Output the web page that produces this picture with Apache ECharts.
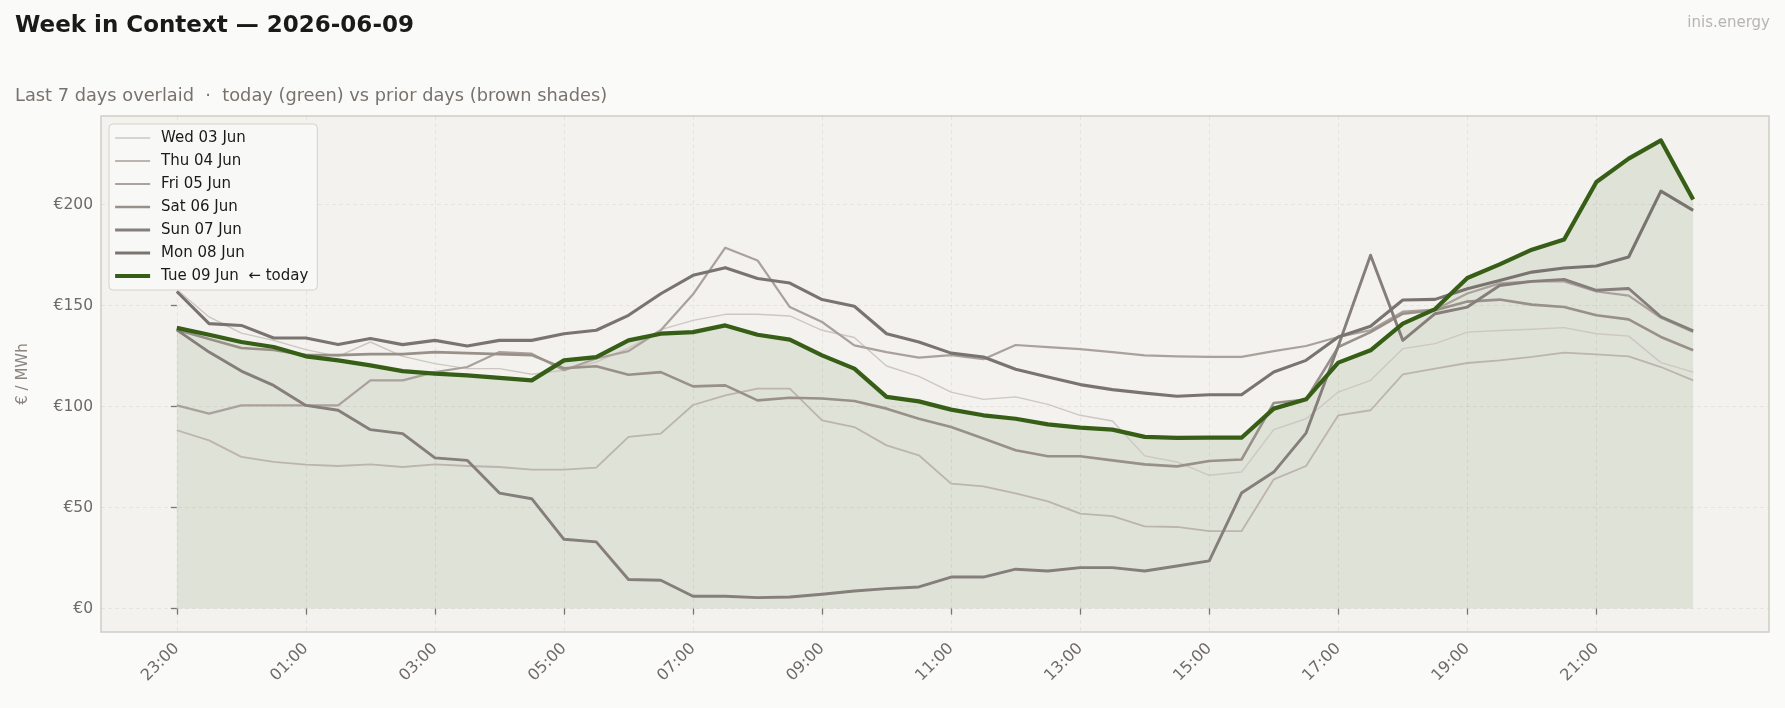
<!DOCTYPE html>
<html>
<head>
<meta charset="utf-8">
<title>Week in Context</title>
<script src="https://cdn.jsdelivr.net/npm/echarts@6/dist/echarts.min.js"></script>
<style>
  html, body { margin: 0; padding: 0; background: #fafaf8; }
  #main { width: 1785px; height: 708px; }
</style>
</head>
<body>
<div id="main"></div>
<script>
// half-hour slots, 23:00 (day before) .. 22:30
const slots = ['23:00','23:30','00:00','00:30','01:00','01:30','02:00','02:30','03:00','03:30',
  '04:00','04:30','05:00','05:30','06:00','06:30','07:00','07:30','08:00','08:30',
  '09:00','09:30','10:00','10:30','11:00','11:30','12:00','12:30','13:00','13:30',
  '14:00','14:30','15:00','15:30','16:00','16:30','17:00','17:30','18:00','18:30',
  '19:00','19:30','20:00','20:30','21:00','21:30','22:00','22:30']
const tickLabels = ['23:00','01:00','03:00','05:00','07:00','09:00','11:00','13:00','15:00','17:00','19:00','21:00']
const priceTicks = [0, 50, 100, 150, 200]

const wed = [158,144.4,136.4,132.8,128.2,124.9,132,124.9,121.3,118.8,118.8,116,
  118,122.1,129,138.1,142.7,145.7,145.7,144.9,137.8,134.2,120.1,115,
  107.2,103.6,104.8,101.1,95.7,92.9,75.6,72.6,66,67.6,88.6,94,
  107.2,113,128.7,131.2,136.9,137.7,138.3,139.1,136.1,134.9,121.8,117.1]
const thu = [88.3,83.3,75.1,72.6,71.3,70.6,71.4,70.1,71.4,70.6,70.1,68.8,
  68.8,69.8,85,86.6,100.8,105.6,108.9,108.9,93.2,89.9,80.8,75.9,
  61.9,60.5,57,53.1,47,45.8,40.7,40.4,38.3,38.3,64,70.6,
  95.7,98.2,116,118.8,121.6,122.9,124.6,126.7,125.9,124.9,119.6,113]
const fri = [100.6,96.5,100.6,100.6,100.6,100.6,113,113,117.1,119.6,127,126.2,
  118,123.8,127.5,137.8,155.6,178.7,172.4,149.3,141.9,130.3,127,124.3,
  125.5,123.5,130.5,129.5,128.5,127,125.4,124.9,124.6,124.6,127.5,130,
  134.5,137.8,147,148,156,161,162,162,157,155,144,137]
const sat = [138,133.5,129,128,125.5,125.5,126,126,127,126.5,126,125.5,
  119,120,115.8,117.1,110,110.5,103.1,104.4,104,102.8,99,94,
  89.9,84.2,78.4,75.4,75.4,73.4,71.4,70.4,73.1,73.8,101.8,103.5,
  129.5,136.9,146,147.7,152,153,150.5,149.3,145.2,143.2,134.5,127.9]
const sun = [138,127,117.6,110.5,100.6,98.2,88.6,86.6,74.6,73.4,57.2,54.4,
  34.3,33,14.4,14,6.1,6.1,5.4,5.7,7.1,8.7,9.9,10.7,
  15.6,15.6,19.5,18.6,20.3,20.3,18.6,21.1,23.6,57.2,67.6,86.9,
  130,175,132.8,146,149.3,160,162,163,157.6,158.5,144.5,137.5]
const mon = [157,141.1,140.2,134,134,130.8,133.7,130.7,132.8,130,132.8,132.8,
  136.1,137.8,145.2,155.9,165,168.8,163.4,161.2,153,149.7,136.1,132,
  126.5,124.6,118.5,114.7,110.9,108.4,106.7,105.1,105.9,105.9,117.1,122.9,
  134.5,139.8,152.8,153.1,158.4,162.5,166.6,168.6,169.6,174.1,206.7,197.2]
const tue = [139,135.6,132,129.5,124.9,122.9,120.4,117.6,116.3,115.5,114.2,113,
  122.9,124.5,132.8,136.1,136.9,140.2,135.6,133.2,125.4,118.8,104.8,102.6,
  98.5,95.7,94,91.2,89.6,88.6,85,84.5,84.6,84.6,99,103.6,
  121.8,127.9,141.1,148.3,163.7,170.4,177.7,182.7,211.2,222.8,231.8,202.5]

const days = [
  { name: 'Wed 03 Jun', values: wed, color: '#cdc7c2', width: 1.4 },
  { name: 'Thu 04 Jun', values: thu, color: '#bcb4af', width: 1.8 },
  { name: 'Fri 05 Jun', values: fri, color: '#aaa19c', width: 2.2 },
  { name: 'Sat 06 Jun', values: sat, color: '#989089', width: 2.6 },
  { name: 'Sun 07 Jun', values: sun, color: '#857e7a', width: 2.9 },
  { name: 'Mon 08 Jun', values: mon, color: '#7a7470', width: 3.1 },
  { name: 'Tue 09 Jun  ← today', values: tue, color: '#375e17', width: 4.2 }
]

const toPoints = arr => arr.map((v, i) => [i, v])
const tickIdx = tickLabels.map(t => slots.indexOf(t))
const font = 'DejaVu Sans'

const chart = echarts.init(document.getElementById('main'), null, { renderer: 'canvas' })

const series = [{
  name: 'today-fill',
  type: 'line',
  data: toPoints(tue),
  showSymbol: false,
  silent: true,
  lineStyle: { width: 0, opacity: 0 },
  areaStyle: { color: 'rgba(56,94,23,0.15)', origin: 'auto' },
  z: 1
}]
days.forEach(d => {
  series.push({
    name: d.name,
    type: 'line',
    data: toPoints(d.values),
    showSymbol: false,
    lineStyle: { color: d.color, width: d.width, join: 'round' },
    itemStyle: { color: d.color },
    z: 2
  })
})

chart.setOption({
  animation: false,
  backgroundColor: '#fafaf8',
  textStyle: { fontFamily: font },
  title: [
    { text: 'Week in Context — 2026-06-09', left: 15, top: 15, padding: 0,
      textStyle: { fontFamily: font, fontSize: 23, fontWeight: 'bold', color: '#1a1a1a' } },
    { text: 'Last 7 days overlaid  ·  today (green) vs prior days (brown shades)', left: 15, top: 87, padding: 0,
      textStyle: { fontFamily: font, fontSize: 17.8, fontWeight: 'normal', color: '#78726d' } },
    { text: 'inis.energy', right: 15, top: 16, padding: 0,
      textStyle: { fontFamily: font, fontSize: 15, fontWeight: 'normal', color: '#b8b4af' } }
  ],
  legend: {
    orient: 'vertical',
    left: 109,
    top: 124,
    padding: [6, 9, 6, 4],
    itemWidth: 35,
    itemHeight: 14,
    itemGap: 7,
    backgroundColor: '#f8f8f6',
    borderColor: '#d6d2cc',
    borderWidth: 1,
    borderRadius: 4,
    itemStyle: { opacity: 0 },
    textStyle: { fontFamily: font, fontSize: 15, color: '#1a1a1a', lineHeight: 16, padding: [0, 0, 0, 6] },
    data: days.map(d => ({ name: d.name, lineStyle: { width: d.width, color: d.color } }))
  },
  grid: {
    left: 101, top: 116, right: 16, bottom: 76,
    containLabel: false,
    outerBoundsMode: 'none',
    show: true,
    backgroundColor: '#f3f2ee',
    borderColor: '#d1cdc6',
    borderWidth: 1.5
  },
  xAxis: {
    type: 'value',
    min: -2.35,
    max: 49.35,
    axisLine: { show: false },
    axisTick: { show: true, length: 6, customValues: tickIdx, lineStyle: { color: '#7a7571', width: 1.3 } },
    axisLabel: {
      customValues: tickIdx,
      rotate: 45,
      margin: 14,
      fontFamily: font,
      fontSize: 16,
      color: '#6f6a66',
      formatter: v => slots[v]
    },
    splitLine: { show: true, lineStyle: { color: 'rgba(170,165,155,0.22)', type: [4, 3], width: 0.8 } }
  },
  yAxis: {
    type: 'value',
    min: -11.6,
    max: 243.9,
    name: '€ / MWh',
    nameLocation: 'middle',
    nameGap: 70,
    nameTextStyle: { fontFamily: font, fontSize: 15, color: '#8a847f' },
    axisLine: { show: false },
    axisTick: { show: true, length: 6, customValues: priceTicks, lineStyle: { color: '#7a7571', width: 1.3 } },
    axisLabel: {
      customValues: priceTicks,
      margin: 8,
      fontFamily: font,
      fontSize: 15.5,
      color: '#6f6a66',
      formatter: v => '€' + v
    },
    splitLine: { show: true, lineStyle: { color: 'rgba(170,165,155,0.22)', type: [4, 3], width: 0.8 } }
  },
  series: series
})
</script>
</body>
</html>
